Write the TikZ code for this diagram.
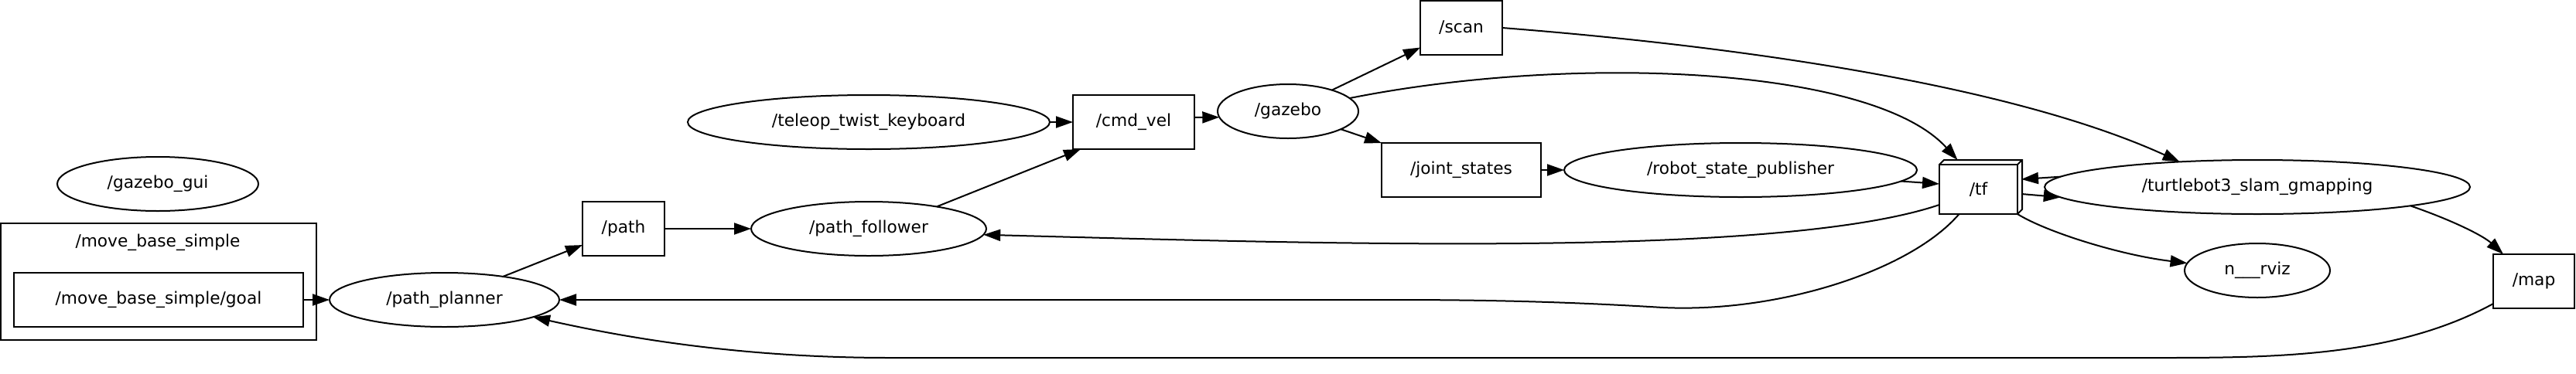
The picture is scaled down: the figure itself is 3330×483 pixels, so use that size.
\documentclass[tikz,border=0pt]{standalone}
\usepackage{fontspec}
\newfontfamily\dvs{DejaVu Sans}
\usetikzlibrary{shapes.geometric,arrows.meta}
\begin{document}
\begin{tikzpicture}[x=1pt,y=-1pt,
  every node/.style={font=\dvs\fontsize{21.7}{26}\selectfont, inner sep=0pt, outer sep=0pt, line width=2pt},
  topic/.style={draw, rectangle, minimum height=70pt},
  rosnode/.style={draw, ellipse, minimum height=70pt},
  link/.style={line width=2pt, -{Triangle[length=22pt,width=15pt]}},
  plain/.style={line width=2pt}
]
\useasboundingbox (0,0) rectangle (3330,483);

% cluster
\node[draw, rectangle, minimum width=408pt, minimum height=151pt] (msbbox) at (205,364.5) {};
\node (msblabel) at (204,314) {/move\_base\_simple};
\node[topic, minimum width=374pt] (goal) at (205,388) {/move\_base\_simple/goal};

% nodes
\node[rosnode, minimum width=260pt] (gzgui) at (204,238) {/gazebo\_gui};
\node[rosnode, minimum width=297pt] (pp) at (574.5,388) {/path\_planner};
\node[topic, minimum width=106pt] (path) at (806,296) {/path};
\node[rosnode, minimum width=304pt] (pf) at (1123,296) {/path\_follower};
\node[rosnode, minimum width=468pt] (teleop) at (1123,158) {/teleop\_twist\_keyboard};
\node[topic, minimum width=157pt] (cmd) at (1465.5,158) {/cmd\_vel};
\node[rosnode, minimum width=182pt] (gz) at (1665,144) {/gazebo};
\node[topic, minimum width=106pt] (scan) at (1889,36) {/scan};
\node[topic, minimum width=206pt] (js) at (1889,220) {/joint\_states};
\node[rosnode, minimum width=456pt] (rsp) at (2250,220) {/robot\_state\_publisher};
\node[draw, rectangle, minimum width=101pt, minimum height=64pt] (tf) at (2557.5,245) {/tf};
\draw[plain, line join=miter] (tf.north west) -- ([xshift=6pt,yshift=6pt]tf.north west) -- ([xshift=6pt,yshift=6pt]tf.north east) -- ([xshift=6pt,yshift=6pt]tf.south east) -- (tf.south east);
\draw[plain] (tf.north east) -- ([xshift=6pt,yshift=6pt]tf.north east);
\node[rosnode, minimum width=550pt] (tb3) at (2918,242) {/turtlebot3\_slam\_gmapping};
\node[rosnode, minimum width=188pt] (rviz) at (2918,350) {n\_\_\_rviz};
\node[topic, minimum width=105pt] (map) at (3275.5,364) {/map};

% edges
\draw[link] (goal) -- (pp);
\draw[link] (pp) -- (path);
\draw[link] (path) -- (pf);
\draw[link] (pf.18) -- ([xshift=10pt]cmd.south west);
\draw[link] (teleop) -- (cmd);
\draw[link] ([yshift=6pt]cmd.east) -- (gz.185);
\draw[link] (gz) -- (scan);
\draw[link] (gz) -- (js);
\draw[link] (gz.12) .. controls (2030,70) and (2420,85) .. ([xshift=-27pt,yshift=6pt]tf.north);
\draw[link] (scan.east) .. controls (2250,60) and (2600,110) .. (tb3.162);
\draw[link] (js) -- (rsp);
\draw[link] (rsp.-4) -- ([yshift=7pt]tf.west);
\draw[link] ([xshift=5pt,yshift=-6pt]tf.east) -- (tb3.183);
\draw[link] (tb3.177) -- ([xshift=5pt,yshift=13pt]tf.east);
\draw[link] (tb3.-7) .. controls (3170,285) and (3210,305) .. ([xshift=13pt]map.north west);
\draw[link] (tf.south east) .. controls (2645,300) and (2740,330) .. (rviz.174);
\draw[link] ([yshift=-20pt]tf.west) .. controls (2300,335) and (1700,315) .. (pf.-3);
\draw[link] ([xshift=-25pt]tf.south) .. controls (2470,350) and (2300,405) .. (2150,398) .. controls (2050,392) and (1950,388) .. (1800,388) -- (pp.east);
\draw[link] ([yshift=6pt]map.south west) .. controls (3100,460) and (2950,463) .. (2800,463) -- (1150,463) .. controls (950,463) and (800,435) .. (pp.-11);
\end{tikzpicture}
\end{document}
